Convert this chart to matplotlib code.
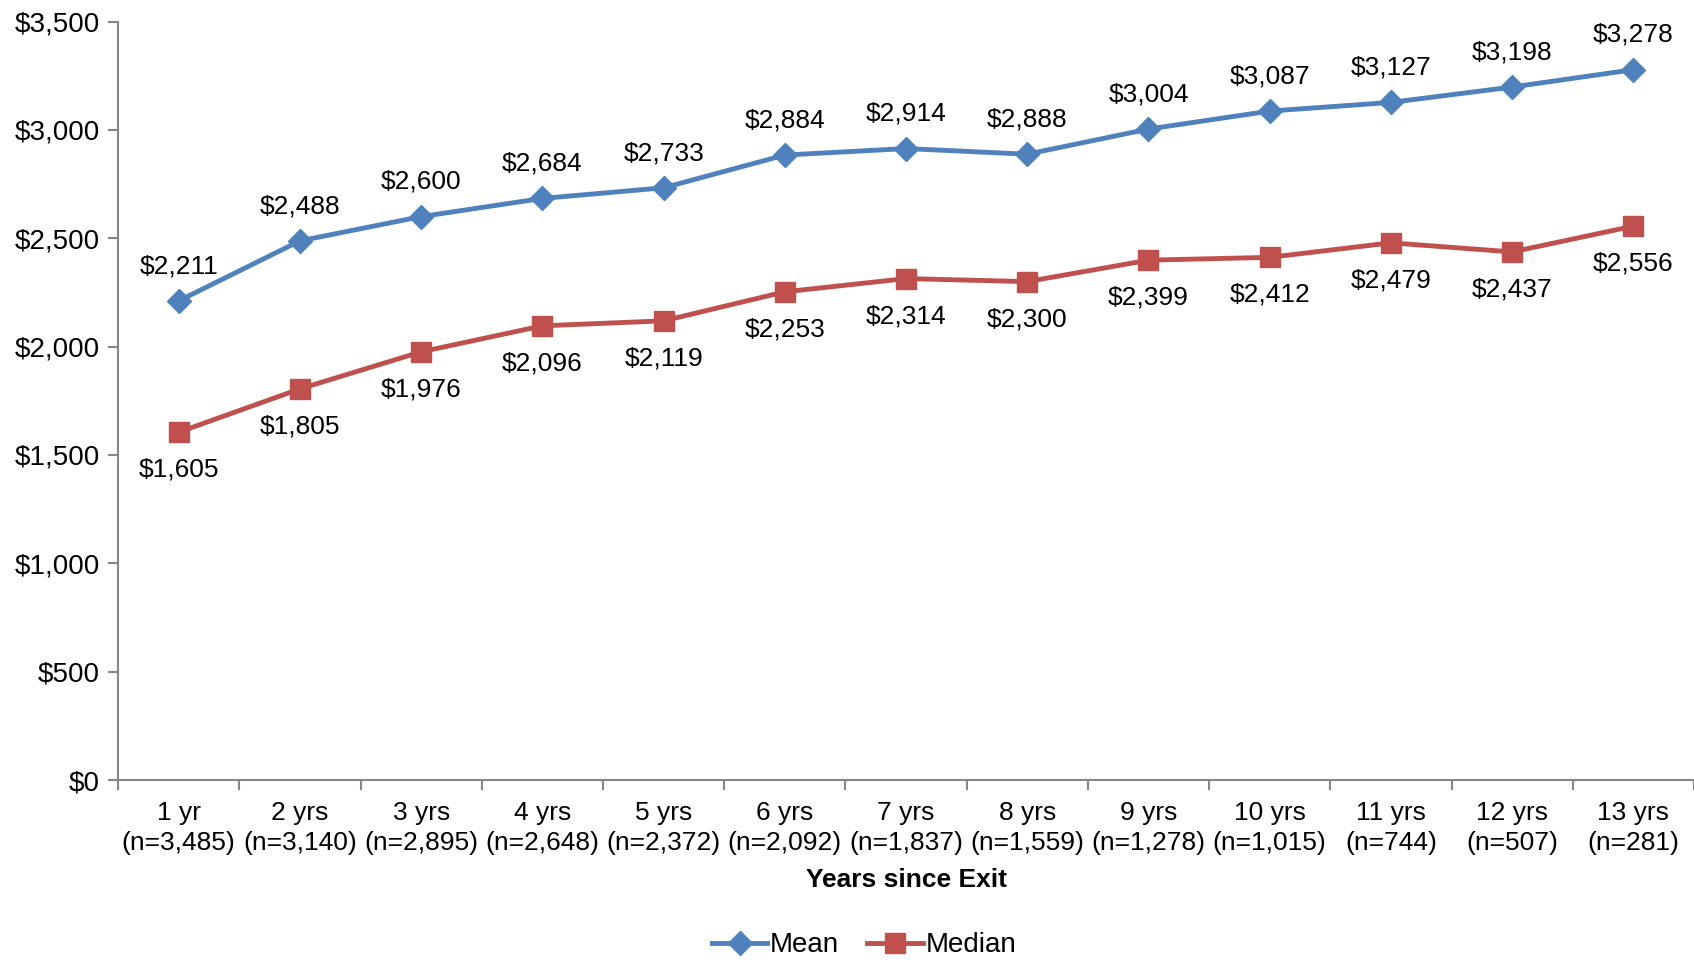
"""Mean and median earnings by years since exit."""

import matplotlib

matplotlib.use("Agg")
import matplotlib.pyplot as plt
import numpy as np

plt.rcParams["font.family"] = ["Liberation Sans", "DejaVu Sans"]

YEARS = ["1 yr", "2 yrs", "3 yrs", "4 yrs", "5 yrs", "6 yrs", "7 yrs",
         "8 yrs", "9 yrs", "10 yrs", "11 yrs", "12 yrs", "13 yrs"]
COUNTS = ["3,485", "3,140", "2,895", "2,648", "2,372", "2,092", "1,837",
          "1,559", "1,278", "1,015", "744", "507", "281"]
MEAN = [2211, 2488, 2600, 2684, 2733, 2884, 2914, 2888, 3004, 3087, 3127, 3198, 3278]
MEDIAN = [1605, 1805, 1976, 2096, 2119, 2253, 2314, 2300, 2399, 2412, 2479, 2437, 2556]

BLUE = "#4F81BD"
RED = "#C0504D"
GRAY = "#868686"
FS = 19

fig = plt.figure(figsize=(16.94, 9.63), dpi=100)
ax = fig.add_axes([0.0697, 0.19, 0.9303, 0.7876])

x = np.arange(1, len(YEARS) + 1)
ax.plot(x, MEAN, color=BLUE, lw=3.5, marker="D", ms=12, label="Mean", zorder=3)
ax.plot(x, MEDIAN, color=RED, lw=3.5, marker="s", ms=14, label="Median", zorder=3)

for xi, v in zip(x, MEAN):
    ax.annotate(f"${v:,}", (xi, v), xytext=(0, 25), textcoords="offset points",
                ha="center", va="center", fontsize=FS)
for xi, v in zip(x, MEDIAN):
    ax.annotate(f"${v:,}", (xi, v), xytext=(0, -27), textcoords="offset points",
                ha="center", va="center", fontsize=FS)

ax.set_xlim(0.5, len(YEARS) + 0.5)
ax.set_ylim(0, 3500)
ax.set_yticks(np.arange(0, 3501, 500))
ax.set_yticklabels([f"${v:,}" for v in range(0, 3501, 500)], fontsize=FS + 1)

# category labels between boundary tick marks, Excel style
ax.set_xticks(np.arange(0.5, len(YEARS) + 1, 1.0))
ax.set_xticklabels([])
ax.set_xticks(x, minor=True)
ax.set_xticklabels([f"{y}\n(n={n})" for y, n in zip(YEARS, COUNTS)],
                   minor=True, fontsize=FS, linespacing=1.3)
ax.tick_params(axis="x", which="minor", length=0, pad=15)
ax.tick_params(axis="x", which="major", length=7, width=1.5, color=GRAY)
ax.tick_params(axis="y", length=7, width=1.5, color=GRAY, pad=6)

for side in ("top", "right"):
    ax.spines[side].set_visible(False)
for side in ("left", "bottom"):
    ax.spines[side].set_color(GRAY)
    ax.spines[side].set_linewidth(1.5)

ax.set_xlabel("Years since Exit", fontsize=FS, fontweight="bold", labelpad=10)

fig.legend(loc="lower center", bbox_to_anchor=(0.51, -0.021), ncol=2, frameon=False,
           fontsize=FS + 1, handlelength=2.0, handletextpad=0.1, columnspacing=1.0)

fig.savefig("out.png", dpi=100)
